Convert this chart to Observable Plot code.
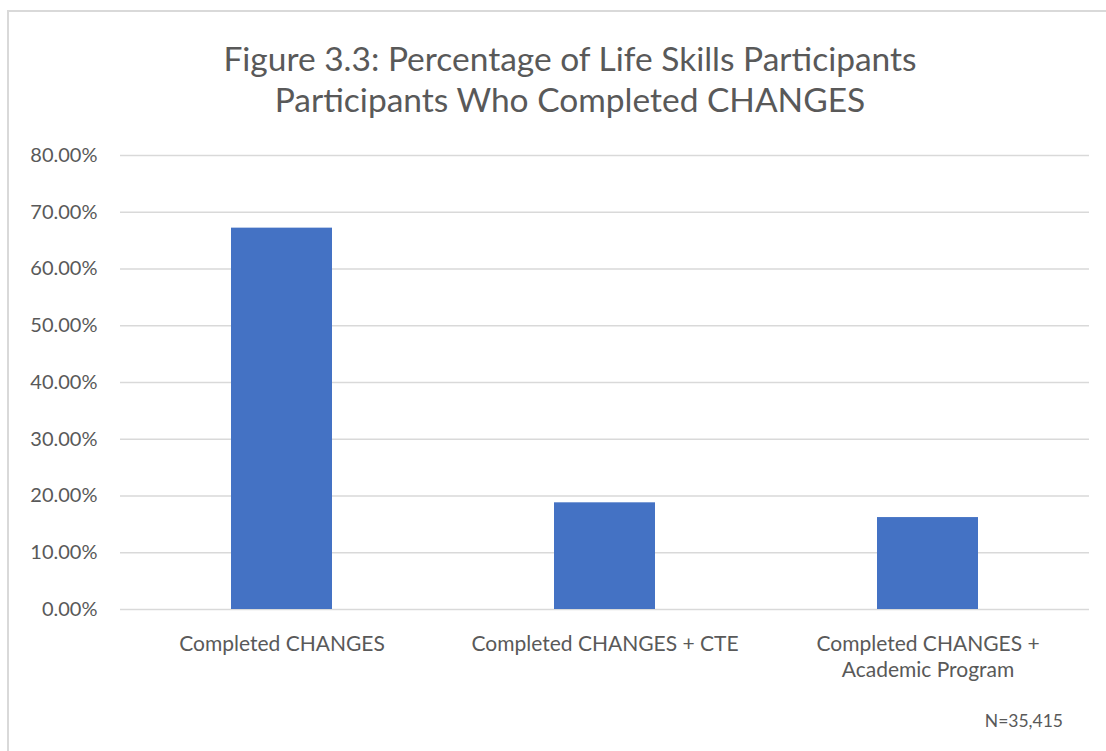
<!DOCTYPE html>
<html>
<head>
<meta charset="utf-8">
<script src="https://cdn.jsdelivr.net/npm/d3@7"></script>
<script src="https://cdn.jsdelivr.net/npm/@observablehq/plot@0.6"></script>
<style>
  html, body { margin: 0; padding: 0; background: #fff; }
  #wrap { position: relative; width: 1106px; height: 751px; overflow: hidden; font-family: Lato, "Open Sans", sans-serif; }
  #frame { position: absolute; left: 7px; top: 10px; width: 1110px; height: 760px; border-left: 2px solid #d9d9d9; border-top: 2px solid #d9d9d9; }
  #title { position: absolute; left: 0; width: 1140px; top: 38px; text-align: center; font-size: 33.5px; line-height: 41px; color: #595959; }
  #note { position: absolute; right: 43px; top: 710px; font-size: 17.5px; color: #595959; }
  #chart { position: absolute; left: 0; top: 0; }
</style>
</head>
<body>
<div id="wrap">
  <div id="frame"></div>
  <div id="chart"></div>
  <div id="title">Figure 3.3: Percentage of Life Skills Participants<br>Participants Who Completed CHANGES</div>
  <div id="note">N=35,415</div>
</div>
<script>
const categories = ["Completed CHANGES", "Completed CHANGES + CTE", "Completed CHANGES + Academic Program"];
const tickLabels = ["Completed CHANGES", "Completed CHANGES + CTE", "Completed CHANGES +\nAcademic Program"];
const values = [0.672, 0.188, 0.162];
const yTicks = [0, 0.1, 0.2, 0.3, 0.4, 0.5, 0.6, 0.7, 0.8];

const data = categories.map((c, i) => ({category: c, value: values[i]}));
const labelOf = new Map(categories.map((c, i) => [c, tickLabels[i]]));

const chart = Plot.plot({
  width: 1106,
  height: 751,
  marginLeft: 120,
  marginRight: 17,
  marginTop: 155,
  marginBottom: 142,
  style: {fontFamily: "Lato, 'Open Sans', sans-serif", fontSize: "20px", color: "#595959", background: "transparent"},
  x: {domain: categories, paddingInner: 0.687, paddingOuter: 0.3435, label: null},
  y: {domain: [0, 0.8], label: null},
  marks: [
    Plot.gridY(yTicks, {stroke: "#d9d9d9", strokeOpacity: 1, strokeWidth: 1.5}),
    Plot.barY(data, {x: "category", y: "value", fill: "#4472c4"}),
    Plot.axisY(yTicks, {tickSize: 0, tickPadding: 23, tickFormat: d3.format(".2%"), fontSize: 20, fill: "#595959", label: null}),
    Plot.axisX({tickSize: 0, tickPadding: 24, tickFormat: d => labelOf.get(d), fontSize: 21, fill: "#595959", lineHeight: 1.2, label: null})
  ]
});
document.getElementById("chart").appendChild(chart);
</script>
</body>
</html>
